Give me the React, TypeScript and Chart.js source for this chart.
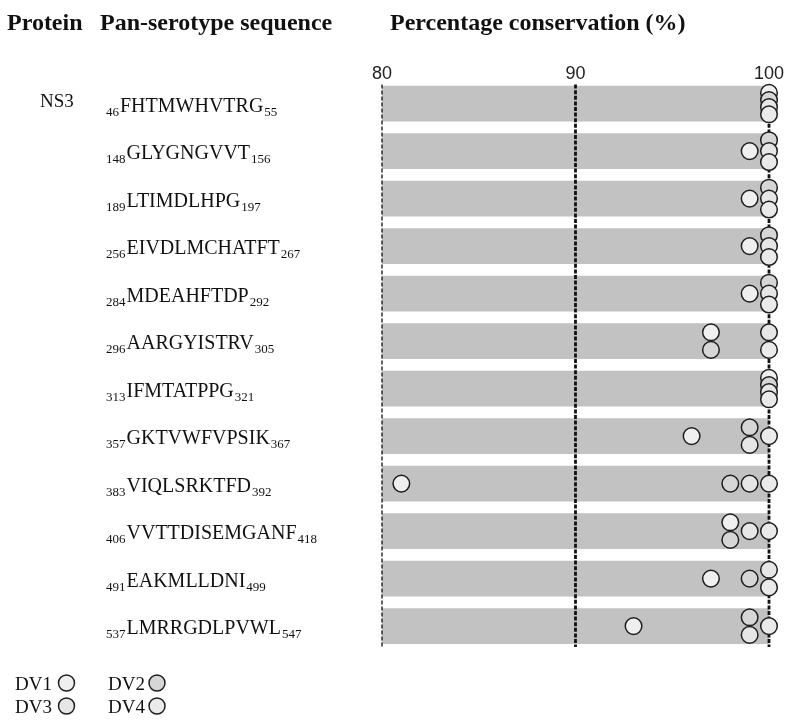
import { useEffect, useRef } from "react";
import { Chart, registerables } from "chart.js";

Chart.register(...registerables);

const PROTEIN = "NS3";
const HEADERS = ["Protein", "Pan-serotype sequence", "Percentage conservation (%)"];
const SEQ_START = ["46", "148", "189", "256", "284", "296", "313", "357", "383", "406", "491", "537"];
const SEQUENCES = [
  "FHTMWHVTRG",
  "GLYGNGVVT",
  "LTIMDLHPG",
  "EIVDLMCHATFT",
  "MDEAHFTDP",
  "AARGYISTRV",
  "IFMTATPPG",
  "GKTVWFVPSIK",
  "VIQLSRKTFD",
  "VVTTDISEMGANF",
  "EAKMLLDNI",
  "LMRRGDLPVWL",
];
const SEQ_END = ["55", "156", "197", "267", "292", "305", "321", "367", "392", "418", "499", "547"];

const DV1 = [100, 99, 99, 99, 99, 97, 100, 96, 81, 98, 97, 93];
const DV2 = [100, 100, 100, 100, 100, 97, 100, 99, 98, 98, 99, 99];
const DV3 = [100, 100, 100, 100, 100, 100, 100, 99, 99, 99, 100, 99];
const DV4 = [100, 100, 100, 100, 100, 100, 100, 100, 100, 100, 100, 100];

const SERIES_NAMES = ["DV1", "DV2", "DV3", "DV4"];
const BAR_RANGE = [80, 100];
const X_TICKS = [80, 90, 100];

const SERIES = [DV1, DV2, DV3, DV4];
const FILLS = ["#efefef", "#d6d6d6", "#e6e6e6", "#eaeaea"];
const SERIF = "'Liberation Serif', 'Times New Roman', serif";
const SANS = "'Liberation Sans', Arial, sans-serif";

// vertical stacking of equal values inside a row (beeswarm-like)
function stackOffset(row: number, s: number): number {
  const v = SERIES[s][row];
  const same: number[] = [];
  SERIES.forEach((arr, k) => {
    if (arr[row] === v) same.push(k);
  });
  const n = same.length;
  const k = same.indexOf(s);
  const spread = n === 2 ? 0.37 : n === 3 ? 0.23 : n >= 4 ? 0.15 : 0;
  return (k - (n - 1) / 2) * spread;
}

export default function App() {
  const ref = useRef<HTMLCanvasElement | null>(null);

  useEffect(() => {
    if (!ref.current) return;

    const linesPlugin = {
      id: "dashLines",
      afterDatasetDraw(chart: any, args: any) {
        if (args.index !== 0) return;
        const { ctx, chartArea, scales } = chart;
        const x = scales.x;
        X_TICKS.forEach((v) => {
          const px = x.getPixelForValue(v);
          ctx.save();
          ctx.strokeStyle = "#111";
          ctx.lineWidth = v === 80 ? 1.3 : 2.8;
          ctx.setLineDash(v === 80 ? [4, 2] : [4, 1.6]);
          ctx.beginPath();
          ctx.moveTo(px, chartArea.top);
          ctx.lineTo(px, chartArea.bottom);
          ctx.stroke();
          ctx.restore();
        });
      },
    };

    const textPlugin = {
      id: "texts",
      afterDraw(chart: any) {
        const { ctx, scales } = chart;
        const y = scales.y;
        ctx.save();
        ctx.fillStyle = "#111";
        ctx.textAlign = "left";
        ctx.textBaseline = "alphabetic";

        // headers
        ctx.font = `bold 24px ${SERIF}`;
        const hx = [7, 100, 390];
        HEADERS.forEach((h, i) => ctx.fillText(h, hx[i], 30));

        // protein
        ctx.font = `19px ${SERIF}`;
        ctx.fillText(PROTEIN, 40, y.getPixelForValue(0) + 3);

        // sequences
        SEQUENCES.forEach((seq, i) => {
          const yc = y.getPixelForValue(i);
          const base = yc + 8;
          let xx = 106;
          ctx.font = `13px ${SERIF}`;
          ctx.fillText(SEQ_START[i], xx, base + 4);
          xx += ctx.measureText(SEQ_START[i]).width + 1;
          ctx.font = `20px ${SERIF}`;
          ctx.fillText(seq, xx, base);
          xx += ctx.measureText(seq).width + 1;
          ctx.font = `13px ${SERIF}`;
          ctx.fillText(SEQ_END[i], xx, base + 4);
        });

        // legend
        ctx.font = `19px ${SERIF}`;
        const lx = [15, 108];
        const cx = [66.5, 157];
        const ly = [690, 713];
        SERIES_NAMES.forEach((name, i) => {
          const col = i % 2;
          const row = Math.floor(i / 2);
          ctx.fillStyle = "#111";
          ctx.fillText(name, lx[col], ly[row]);
          ctx.beginPath();
          ctx.arc(cx[col], ly[row] - 7, 8, 0, Math.PI * 2);
          ctx.fillStyle = FILLS[i];
          ctx.fill();
          ctx.lineWidth = 1.5;
          ctx.strokeStyle = "#1e1e1e";
          ctx.stroke();
        });
        ctx.restore();
      },
    };

    const datasets: any[] = [
      {
        type: "bar",
        label: "range",
        indexAxis: "y",
        data: SEQUENCES.map((_, i) => ({ x: BAR_RANGE, y: i })),
        backgroundColor: "#c2c2c2",
        borderWidth: 0,
        barThickness: 35,
        order: 10,
      },
      ...SERIES.map((arr, s) => ({
        type: "scatter",
        label: SERIES_NAMES[s],
        data: arr.map((v, i) => ({ x: v, y: i + stackOffset(i, s) })),
        backgroundColor: FILLS[s],
        borderColor: "#1e1e1e",
        borderWidth: 1.5,
        pointRadius: 8.3,
        pointHoverRadius: 8.3,
        clip: false,
        order: 4 - s,
      })),
    ];

    const chart = new Chart(ref.current, {
      type: "bar",
      data: { datasets },
      options: {
        animation: false,
        responsive: true,
        maintainAspectRatio: false,
        layout: { padding: { left: 382, right: 31, top: 63, bottom: 81 } },
        plugins: { legend: { display: false }, tooltip: { enabled: false } },
        scales: {
          x: {
            type: "linear",
            position: "top",
            min: 80,
            max: 100,
            offset: false,
            afterBuildTicks: (scale: any) => {
              scale.ticks = X_TICKS.map((v) => ({ value: v }));
            },
            ticks: { color: "#222", font: { family: SANS, size: 18 }, padding: 0 },
            grid: { display: false, drawTicks: false, offset: false },
            border: { display: false },
          },
          y: {
            type: "linear",
            min: -0.4,
            max: 11.44,
            reverse: true,
            offset: false,
            display: false,
            grid: { offset: false },
          },
        },
      },
      plugins: [linesPlugin, textPlugin],
    });
    return () => chart.destroy();
  }, []);

  return (
    <div style={{ position: "absolute", left: 0, top: 0, width: 800, height: 728, background: "#fff" }}>
      <canvas ref={ref} />
    </div>
  );
}
